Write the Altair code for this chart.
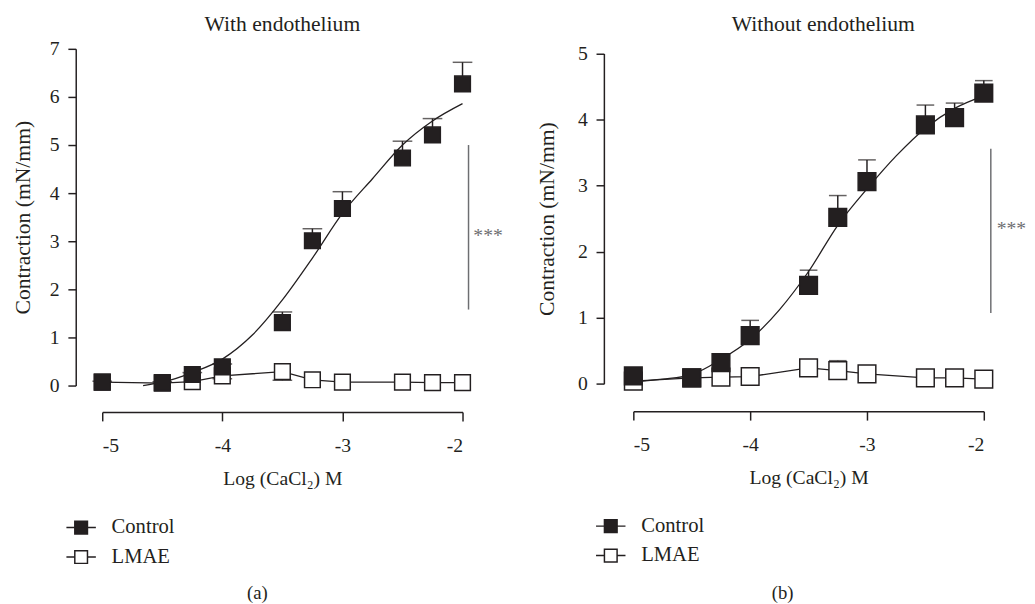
import altair as alt
import pandas as pd

FONT = "Liberation Serif"
INK = "#231f20"
GREY = "#6d6e71"

# ---- data -------------------------------------------------------------
conc = [-5, -4.5, -4.25, -4, -3.5, -3.25, -3, -2.5, -2.25, -2]

# Panel (a): with endothelium
ctrl_a = [0.07, 0.06, 0.23, 0.39, 1.31, 3.01, 3.68, 4.73, 5.21, 6.27]
ctrl_a_err = [0.09, 0.08, 0.27, 0.45, 1.53, 3.26, 4.03, 5.08, 5.55, 6.72]
lmae_a = [0.07, 0.05, 0.08, 0.20, 0.29, 0.12, 0.07, 0.07, 0.06, 0.06]
lmae_a_err = [None, None, None, 0.14, 0.11, None, None, None, None, None]
fit_a_x = [-4.66, -4.5, -4.25, -4.0, -3.75, -3.5, -3.25, -3.0, -2.75, -2.5, -2.25, -2.0]
fit_a_y = [0.0, 0.07, 0.27, 0.55, 1.05, 1.78, 2.65, 3.58, 4.30, 5.0, 5.50, 5.86]

# Panel (b): without endothelium
ctrl_b = [0.12, 0.09, 0.32, 0.73, 1.49, 2.52, 3.06, 3.92, 4.03, 4.40]
ctrl_b_err = [0.14, 0.11, 0.36, 0.96, 1.72, 2.85, 3.39, 4.22, 4.25, 4.59]
lmae_b = [0.04, 0.09, 0.10, 0.11, 0.24, 0.20, 0.15, 0.09, 0.09, 0.07]
lmae_b_err = [None, None, None, None, None, 0.35, 0.27, None, None, None]
fit_b_x = [-5.0, -4.75, -4.5, -4.25, -4.0, -3.75, -3.5, -3.25, -3.0, -2.75, -2.5, -2.25, -2.0]
fit_b_y = [0.03, 0.07, 0.14, 0.37, 0.67, 1.12, 1.70, 2.40, 2.95, 3.45, 3.87, 4.17, 4.36]

series = ["Control", "LMAE"]
x_ticks = [-5, -4, -3, -2]

# significance bars: x, low, high, text position
sig_a = {"x": -1.95, "y1": 1.58, "y2": 5.0, "ty": 3.1, "tx": -1.91}
sig_b = {"x": -1.94, "y1": 1.07, "y2": 3.56, "ty": 2.34, "tx": -1.89}

LEGEND_PATH = "M-1,0H-0.43M0.43,0H1M-0.43,-0.43H0.43V0.43H-0.43Z"


def panel(title, ctrl, ctrl_err, lmae, lmae_err, fit_x, fit_y, ymax,
          width, height, top_pad, sig, caption, cap_xy, leg_xy, title_dx,
          title_offset, ytitle_pad, yoff, xoff, msize, capw):
    pts = pd.DataFrame({
        "conc": conc + conc,
        "series": ["LMAE"] * len(conc) + ["Control"] * len(conc),
        "value": lmae + ctrl,
    })
    err_rows = []
    for c, v, e in zip(conc, ctrl, ctrl_err):
        if e is not None:
            err_rows.append({"conc": c, "value": v, "end": e})
    for c, v, e in zip(conc, lmae, lmae_err):
        if e is not None:
            err_rows.append({"conc": c, "value": v, "end": e})
    err = pd.DataFrame(err_rows)
    fit = pd.DataFrame({"conc": fit_x, "value": fit_y})
    lm = pd.DataFrame({"conc": conc, "value": lmae})

    xs = alt.Scale(domain=[-5, -2], nice=False, zero=False)
    ys = alt.Scale(domain=[0, ymax], nice=False, zero=False,
                   range=[height, top_pad])

    xaxis = alt.Axis(values=x_ticks, offset=xoff, tickSize=9, tickWidth=1.5,
                     domainWidth=1.5, domainColor=INK, tickColor=INK,
                     labelExpr="'' + datum.value", labelFont=FONT,
                     labelFontSize=20, labelColor=INK, labelPadding=15,
                     title="Log (CaCl\u2082) M", titleFont=FONT,
                     titleFontSize=20, titleFontWeight="normal",
                     titleColor=INK, titlePadding=14, grid=False)
    yaxis = alt.Axis(values=list(range(0, ymax + 1)), offset=yoff, tickSize=8,
                     tickWidth=1.5, domainWidth=1.5, domainColor=INK,
                     tickColor=INK, labelFont=FONT, labelFontSize=20,
                     labelExpr="'' + datum.value",
                     labelColor=INK, labelPadding=9, labelFlush=False,
                     title="Contraction (mN/mm)", titleFont=FONT,
                     titleFontSize=22, titleFontWeight="normal",
                     titleColor=INK, titlePadding=ytitle_pad, grid=False)

    def ex(field="conc"):
        return alt.X(f"{field}:Q", scale=xs, axis=xaxis)

    def ey(field="value"):
        return alt.Y(f"{field}:Q", scale=ys, axis=yaxis)

    fit_line = alt.Chart(fit).mark_line(
        interpolate="monotone", color=INK, strokeWidth=1.3
    ).encode(x=ex(), y=ey())

    lmae_line = alt.Chart(lm).mark_line(color=INK, strokeWidth=1.3).encode(
        x=ex(), y=ey())

    err_rule = alt.Chart(err).mark_rule(color=INK, strokeWidth=1.5).encode(
        x=ex(), y=ey(), y2="end:Q")
    err_cap = alt.Chart(err).mark_tick(
        color=INK, thickness=1.5, size=capw, orient="horizontal"
    ).encode(x=ex(), y=ey("end"))

    squares = alt.Chart(pts).mark_square(
        size=msize, stroke=INK, strokeWidth=1.5, opacity=1, fillOpacity=1,
        filled=True
    ).encode(
        x=ex(), y=ey(),
        fill=alt.Fill("series:N",
                      scale=alt.Scale(domain=series, range=[INK, "white"]),
                      legend=alt.Legend(
                          title=None, orient="none", legendX=leg_xy[0],
                          legendY=leg_xy[1], direction="vertical",
                          symbolType=LEGEND_PATH, symbolSize=900,
                          symbolStrokeColor=INK, symbolStrokeWidth=1.5,
                          labelFont=FONT, labelFontSize=21, labelColor=INK,
                          labelOffset=15, rowPadding=4, padding=0)),
    )

    sig_df = pd.DataFrame([sig])
    sig_rule = alt.Chart(sig_df).mark_rule(color=GREY, strokeWidth=1.5).encode(
        x=ex("x"), y=ey("y1"), y2="y2:Q")
    sig_text = alt.Chart(sig_df).mark_text(
        text="***", align="left", baseline="middle", font=FONT, fontSize=20,
        color=GREY
    ).encode(x=ex("tx"), y=ey("ty"))

    cap = alt.Chart(pd.DataFrame({"t": [caption]})).mark_text(
        font=FONT, fontSize=19, color=INK, baseline="middle", align="center"
    ).encode(text="t:N", x=alt.value(cap_xy[0]), y=alt.value(cap_xy[1]))

    return alt.layer(
        fit_line, lmae_line, err_rule, err_cap, squares, sig_rule, sig_text, cap
    ).properties(
        width=width, height=height,
        title=alt.TitleParams(title, font=FONT, fontSize=22,
                              fontWeight="normal", color=INK,
                              anchor="middle", frame="group",
                              offset=title_offset, dx=title_dx),
    )


pa = panel("With endothelium", ctrl_a, ctrl_a_err, lmae_a, lmae_a_err,
           fit_a_x, fit_a_y, 7, 367, 343, 0, sig_a, "(a)", (158, 554),
           (-37.5, 471.7), 0, 3, 15.5, 27, 27, 256, 20)
pb = panel("Without endothelium", ctrl_b, ctrl_b_err, lmae_b, lmae_b_err,
           fit_b_x, fit_b_y, 5, 357, 341.2, 4.8, sig_b, "(b)", (152, 554),
           (-39, 470.2), 15, 7.5, 19.5, 30, 28, 324, 18)

chart = alt.concat(pa, pb, columns=2, spacing=32, align="none").resolve_scale(
    x="independent", y="independent", fill="independent"
).resolve_legend(fill="independent").properties(
    padding={"left": 3, "top": 0, "right": 0, "bottom": 0}
).configure(
    background="white"
).configure_view(stroke=None)

chart.save("out.html", embed_options={"renderer": "svg", "actions": False})
